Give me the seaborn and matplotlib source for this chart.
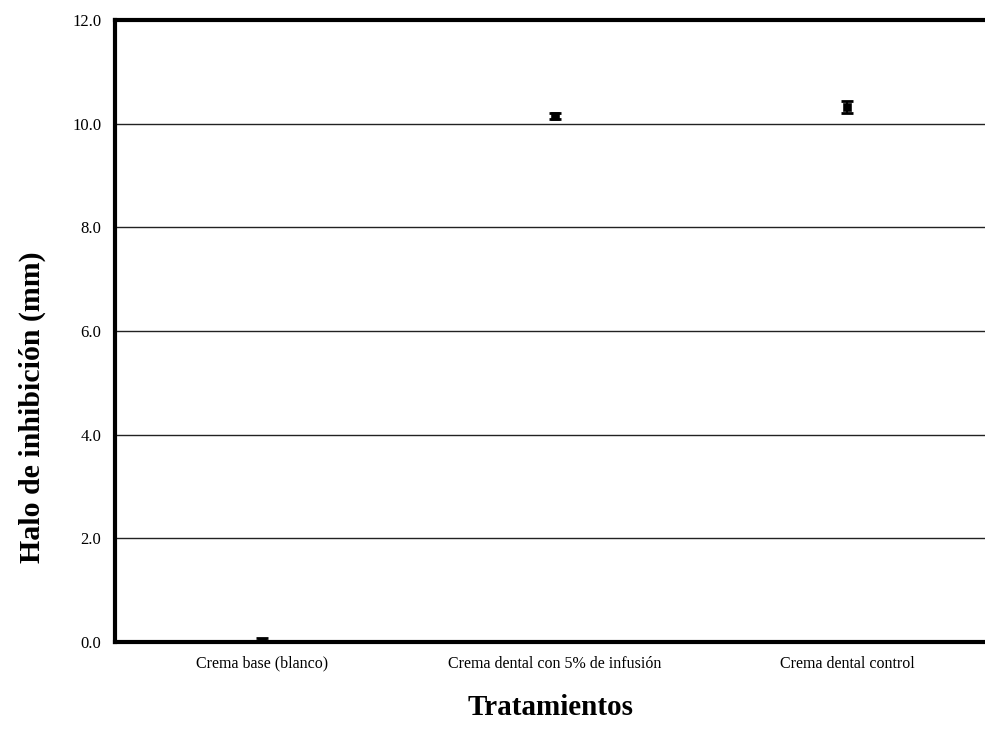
import matplotlib
matplotlib.use("Agg")
import matplotlib.pyplot as plt
import seaborn as sns
import pandas as pd

categories = ["Crema base (blanco)", "Crema dental con 5% de infusión", "Crema dental control"]
means = [0.0, 10.15, 10.32]
errors = [0.08, 0.06, 0.12]
yticks = [0.0, 2.0, 4.0, 6.0, 8.0, 10.0, 12.0]
ytick_labels = ["0.0", "2.0", "4.0", "6.0", "8.0", "10.0", "12.0"]

df = pd.DataFrame({"Tratamiento": categories, "Halo": means, "err": errors})

sns.set_theme(style="white", rc={"text.color": "black", "axes.labelcolor": "black",
                                 "xtick.color": "black", "ytick.color": "black"})
plt.rcParams['font.family'] = ['Liberation Serif', 'DejaVu Serif']

fig = plt.figure(figsize=(9.85, 7.42), dpi=100)
ax = fig.add_axes([0.117, 0.135, 0.883, 0.838])

ax.set_yticks(yticks)
ax.yaxis.grid(True, color="#222222", linewidth=1.0)
ax.set_axisbelow(True)

sns.scatterplot(data=df, x="Tratamiento", y="Halo", ax=ax, marker="s", s=30,
                color="black", edgecolor="black", zorder=3)
ax.errorbar(range(len(categories)), df["Halo"], yerr=df["err"], fmt="none",
            ecolor="black", elinewidth=1.5, capsize=4, capthick=2, zorder=3)

ax.set_ylim(0, 12)
ax.set_xlim(-0.5, 2.47)
ax.set_yticklabels(ytick_labels, fontsize=12)
ax.set_xticks(range(len(categories)))
ax.set_xticklabels(categories, fontsize=11.5)
ax.tick_params(axis="both", length=0, pad=10)

for name, s in ax.spines.items():
    s.set_color("black")
    s.set_linewidth(3)
ax.spines["right"].set_visible(False)

ax.set_ylabel("Halo de inhibición (mm)", fontsize=21.5, fontweight="bold")
ax.yaxis.set_label_coords(-0.08, 0.378)
ax.set_xlabel("Tratamientos", fontsize=21, fontweight="bold", labelpad=16)

fig.savefig("out.png", dpi=100)
